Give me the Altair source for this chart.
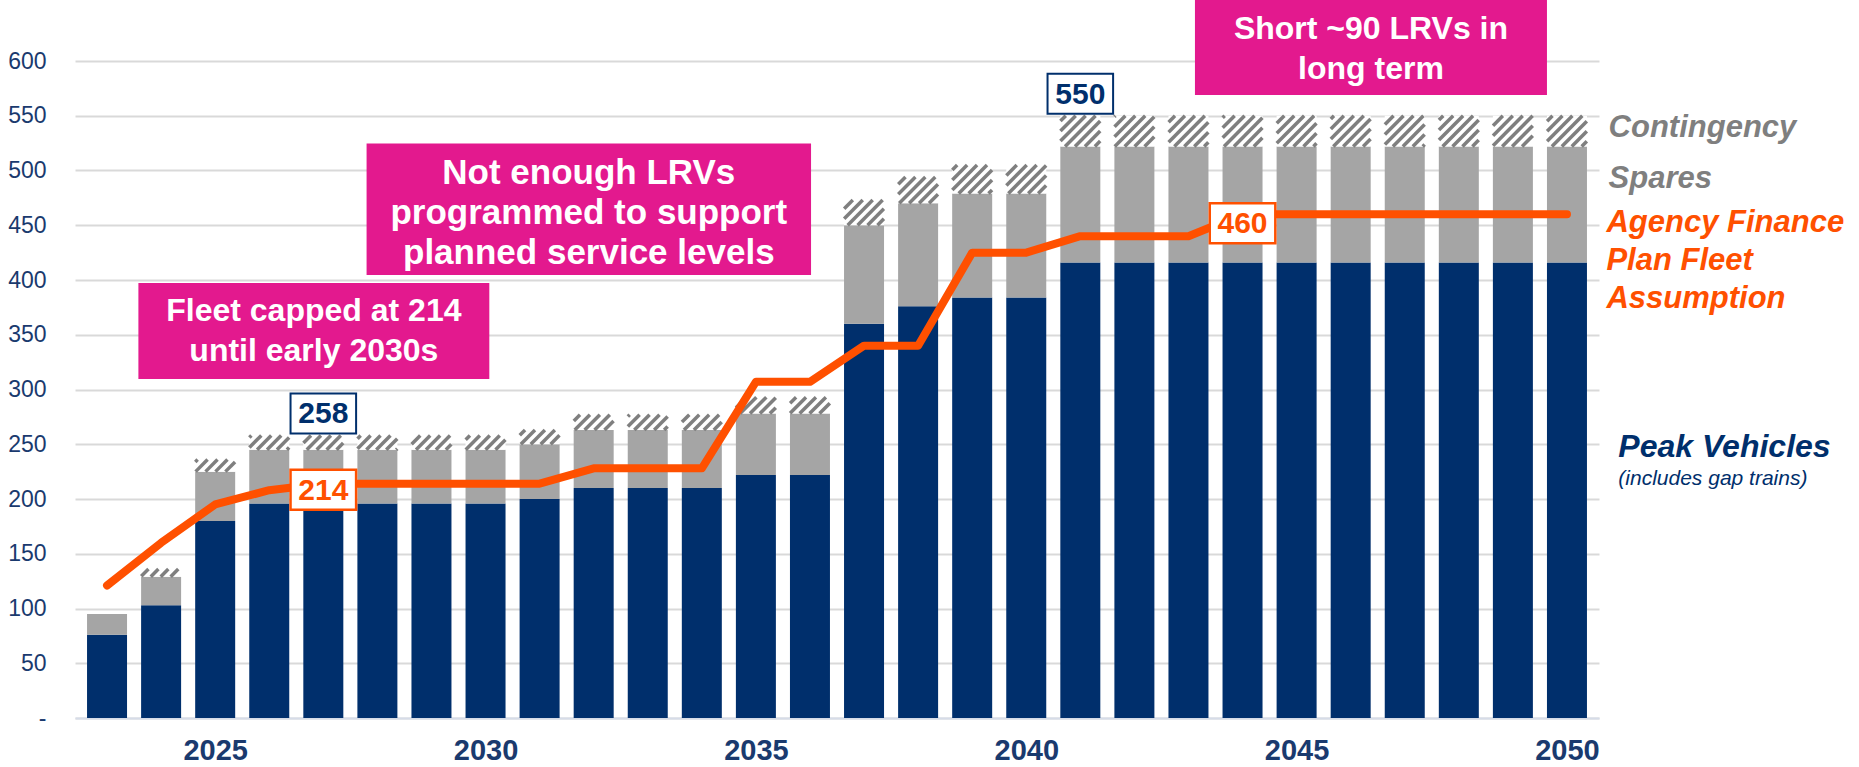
import altair as alt
import pandas as pd

# ---------------- data ----------------
years = list(range(2023, 2051))
peak = [76, 103, 180, 196, 196, 196, 196, 196, 200, 210, 210, 210, 222, 222,
        360, 376, 384, 384, 416, 416, 416, 416, 416, 416, 416, 416, 416, 416]
spares = [19, 26, 45, 49, 49, 49, 49, 49, 50, 53, 53, 53, 56, 56,
          90, 94, 95, 95, 106, 106, 106, 106, 106, 106, 106, 106, 106, 106]
contingency = [0, 7, 11, 13, 13, 13, 13, 13, 13, 14, 14, 14, 15, 15,
               23, 24, 26, 26, 28, 28, 28, 28, 28, 28, 28, 28, 28, 28]
fleet_plan = [121, 160, 195, 208, 214, 214, 214, 214, 214, 228, 228, 228, 307, 307,
              340, 340, 425, 425, 440, 440, 440, 460, 460, 460, 460, 460, 460, 460]
y_ticks = list(range(0, 601, 50))
x_ticks = [2025, 2030, 2035, 2040, 2045, 2050]

# ---------------- geometry / style ----------------
W, H = 1524, 657
PAD_L, PAD_T = 75, 61
PAD_R, PAD_B = 1859 - PAD_L - W, 767 - PAD_T - H
X0, X1 = 2022.5, 2050.5
Y0, Y1 = 0, 600
PXY = W / (X1 - X0)
PXV = H / (Y1 - Y0)
BAR = 40

NAVY = "#002F6C"
GRAY = "#A5A5A5"
HATCH = "#7F7F7F"
ORANGE = "#FF5000"
PINK = "#E3198E"
AXIS_TXT = "#1A3A6E"
FONT = "Liberation Sans"

xs = alt.Scale(domain=[X0, X1], nice=False, zero=False)
ys = alt.Scale(domain=[Y0, Y1], nice=False, zero=False)

y_axis = alt.Axis(values=y_ticks, labelExpr="datum.value == 0 ? '-\u2007' : datum.label",
                  labelFontSize=23, labelColor=AXIS_TXT, labelFont=FONT,
                  labelPadding=29, ticks=False, domain=False, grid=True,
                  gridColor="#D9D9D9", gridWidth=2, title=None, labelOverlap=False)
x_axis = alt.Axis(values=x_ticks, format="d", labelFontSize=29, labelFontWeight="bold",
                  labelColor=AXIS_TXT, labelFont=FONT, labelPadding=18, ticks=False,
                  domain=True, domainColor="#D6DCE8", domainWidth=2, grid=False,
                  title=None, labelOverlap=False)


def X(f):
    return alt.X(f, type="quantitative", scale=xs, axis=x_axis)


def Y(f):
    return alt.Y(f, type="quantitative", scale=ys, axis=y_axis)


def px_x(dx):
    return dx / PXY


def px_y(dy):
    return dy / PXV


# ---------------- tables ----------------
df = pd.DataFrame({"year": years, "peak": peak, "spares": spares,
                   "cont": contingency, "fleet": fleet_plan})
df["zero"] = 0
df["sp_top"] = df["peak"] + df["spares"]
df["total"] = df["sp_top"] + df["cont"]

# hatch stripes for contingency, derived from the data via the scales' pixel ratio
segs = []
period = 10.0
for _, r in df.iterrows():
    if r["cont"] <= 0:
        continue
    u0 = (r["year"] - X0) * PXY - BAR / 2
    u1 = u0 + BAR
    v0 = r["sp_top"] * PXV
    v1 = r["total"] * PXV
    kmin = int((v0 - u1) // period) - 1
    kmax = int((v1 - u0) // period) + 2
    for k in range(kmin, kmax):
        c = k * period
        ua = max(u0, v0 - c)
        ub = min(u1, v1 - c)
        if ub - ua > 0.8:
            segs.append({"x": X0 + ua / PXY, "y": (ua + c) / PXV,
                         "x2": X0 + ub / PXY, "y2": (ub + c) / PXV})
hatch_df = pd.DataFrame(segs)

# ---------------- layers ----------------
base = alt.Chart(df)

navy = base.mark_bar(color=NAVY, size=BAR).encode(
    x=X("year"), y=Y("zero"), y2="peak")
gray = base.mark_bar(color=GRAY, size=BAR).encode(
    x=X("year"), y=Y("peak"), y2="sp_top")
white = base.mark_bar(color="white", size=BAR).encode(
    x=X("year"), y=Y("sp_top"), y2="total")
hatch = alt.Chart(hatch_df).mark_rule(color=HATCH, strokeWidth=3.5, strokeCap="butt").encode(
    x=X("x"), y=Y("y"), x2="x2", y2="y2")
line = base.mark_line(color=ORANGE, strokeWidth=8, strokeCap="round", strokeJoin="round").encode(
    x=X("year"), y=Y("fleet"))

# pink callout boxes
callouts = pd.DataFrame({
    "x": [2023.58, 2027.80, 2043.12],
    "x2": [2030.07, 2036.02, 2049.63],
    "y": [309.6, 404.6, 569.0],
    "y2": [397.3, 524.7, 655.7],
    "text": ["Fleet capped at 214\nuntil early 2030s",
             "Not enough LRVs\nprogrammed to support\nplanned service levels",
             "Short ~90 LRVs in\nlong term"],
    "fs": [32, 35, 32],
    "lh": [40, 40, 40],
    "shift": [0, -4, -2],   # small pixel nudge of text block
})
callouts["n"] = callouts["text"].str.count("\n") + 1
callouts["cx"] = (callouts["x"] + callouts["x2"]) / 2
callouts["cy"] = ((callouts["y"] + callouts["y2"]) / 2
                  + (callouts["n"] - 1) * (callouts["lh"] / 2).apply(px_y)
                  + callouts["shift"].apply(px_y))
pink = alt.Chart(callouts).mark_rect(color=PINK).encode(
    x=X("x"), x2="x2", y=Y("y"), y2="y2")
pink_txt_layers = []
for fs, g in callouts.groupby("fs"):
    pink_txt_layers.append(alt.Chart(g).mark_text(
        color="white", font=FONT, fontSize=int(fs), fontWeight="bold", lineBreak="\n",
        lineHeight=40, align="center", baseline="middle").encode(
        x=X("cx"), y=Y("cy"), text="text:N"))

# value label boxes
lab_year = [2027, 2041, 2027, 2044]
lab_val = [258, 550, 214, 460]
lab_kind = ["total", "total", "fleet", "fleet"]
lab_dy = [22, 22, -6, -9]  # pixel offset of box centre from value
lab = pd.DataFrame({"year": lab_year, "val": lab_val, "kind": lab_kind, "dy": lab_dy})
lab["cx"] = lab["year"] + px_x(0)
lab["cy"] = lab["val"] + lab["dy"].apply(px_y)
lab["x"] = lab["cx"] - px_x(33)
lab["x2"] = lab["cx"] + px_x(33)
lab["y"] = lab["cy"] - px_y(20)
lab["y2"] = lab["cy"] + px_y(20)
lab["txt"] = lab["val"].astype(str)
lab_tot = lab[lab["kind"] == "total"]
lab_fl = lab[lab["kind"] == "fleet"]

box_tot = alt.Chart(lab_tot).mark_rect(fill="white", stroke=NAVY, strokeWidth=2).encode(
    x=X("x"), x2="x2", y=Y("y"), y2="y2")
txt_tot = alt.Chart(lab_tot).mark_text(color=NAVY, font=FONT, fontSize=30, fontWeight="bold",
                                       align="center", baseline="middle", dy=1).encode(
    x=X("cx"), y=Y("cy"), text="txt:N")
box_fl = alt.Chart(lab_fl).mark_rect(fill="white", stroke=ORANGE, strokeWidth=2.5).encode(
    x=X("x"), x2="x2", y=Y("y"), y2="y2")
txt_fl = alt.Chart(lab_fl).mark_text(color=ORANGE, font=FONT, fontSize=30, fontWeight="bold",
                                     align="center", baseline="middle", dy=1).encode(
    x=X("cx"), y=Y("cy"), text="txt:N")

# series labels at right
right_text = ["Contingency", "Spares", "Agency Finance", "Plan Fleet", "Assumption",
              "Peak Vehicles", "(includes gap trains)"]
right_y = [530.9, 483.6, 444.1, 409.1, 374.4, 238.4, 212.8]
right_x = [2050.77, 2050.77, 2050.73, 2050.73, 2050.73, 2050.95, 2050.95]
right_col = ["#7F7F7F", "#7F7F7F", ORANGE, ORANGE, ORANGE, NAVY, NAVY]
right_size = [31, 31, 31, 31, 31, 32, 21]
right_wt = ["bold", "bold", "bold", "bold", "bold", "bold", "normal"]
rdf = pd.DataFrame({"t": right_text, "x": right_x, "y": right_y, "c": right_col,
                    "s": right_size, "w": right_wt})
right_layers = []
for (s, w), g in rdf.groupby(["s", "w"]):
    right_layers.append(
        alt.Chart(g).mark_text(font=FONT, fontSize=int(s), fontWeight=w, fontStyle="italic",
                               align="left", baseline="alphabetic").encode(
            x=X("x"), y=Y("y"), text="t:N",
            color=alt.Color("c:N", scale=None)))

chart = alt.layer(
    navy, gray, white, hatch, line, pink, *pink_txt_layers,
    box_tot, txt_tot, box_fl, txt_fl, *right_layers
).properties(
    width=W, height=H,
    autosize=alt.AutoSizeParams(type="none"),
    padding={"left": PAD_L, "top": PAD_T, "right": PAD_R, "bottom": PAD_B},
    background="white",
).configure_view(stroke=None)

chart.save("out.html", embed_options={"renderer": "svg", "actions": False})
